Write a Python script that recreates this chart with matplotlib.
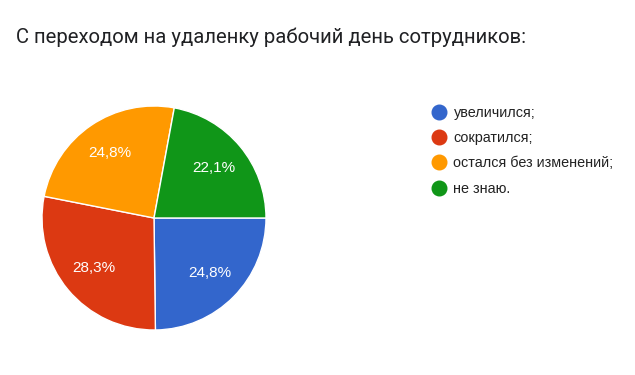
import numpy as np
import matplotlib.pyplot as plt
from matplotlib.lines import Line2D

title = "С переходом на удаленку рабочий день сотрудников:"
labels = ["увеличился;", "сократился;", "остался без изменений;", "не знаю."]
shares = [24.8, 28.3, 24.8, 22.1]
colors = ["#3366cc", "#dc3912", "#ff9900", "#109618"]
pct_text = ["24,8%", "28,3%", "24,8%", "22,1%"]

fig = plt.figure(figsize=(6.35, 3.75), dpi=100)
fig.text(16 / 635, 1 - 37 / 375, title, fontsize=14.6, color="#202124",
         family="Roboto", va="center", ha="left")

# pie centred at (154, 218) px, radius ~112 px
ax = fig.add_axes([(154 - 112) / 635, (157 - 112) / 375, 224 / 635, 224 / 375])
wedges, _ = ax.pie(shares, colors=colors, startangle=0, counterclock=False,
                   wedgeprops=dict(edgecolor="white", linewidth=1))
ax.set_aspect("auto")
ax.set_xlim(-1, 1)
ax.set_ylim(-1, 1)

for w, t in zip(wedges, pct_text):
    mid = np.deg2rad((w.theta1 + w.theta2) / 2)
    ax.text(0.7 * np.cos(mid), 0.7 * np.sin(mid), t, color="white",
            fontsize=11, family="Liberation Sans", ha="center", va="center")

handles = [Line2D([], [], marker="o", linestyle="", markersize=10.5,
                  markerfacecolor=c, markeredgecolor=c) for c in colors]
fig.legend(handles, labels, loc="upper left", bbox_to_anchor=(426 / 635, 1 - 100 / 375),
           frameon=False, prop=dict(family="Liberation Sans", size=10.4),
           labelcolor="#222222", handlelength=1.0, handletextpad=0.5,
           labelspacing=0.78, borderaxespad=0)

fig.savefig("out.png", dpi=100, facecolor="white")
